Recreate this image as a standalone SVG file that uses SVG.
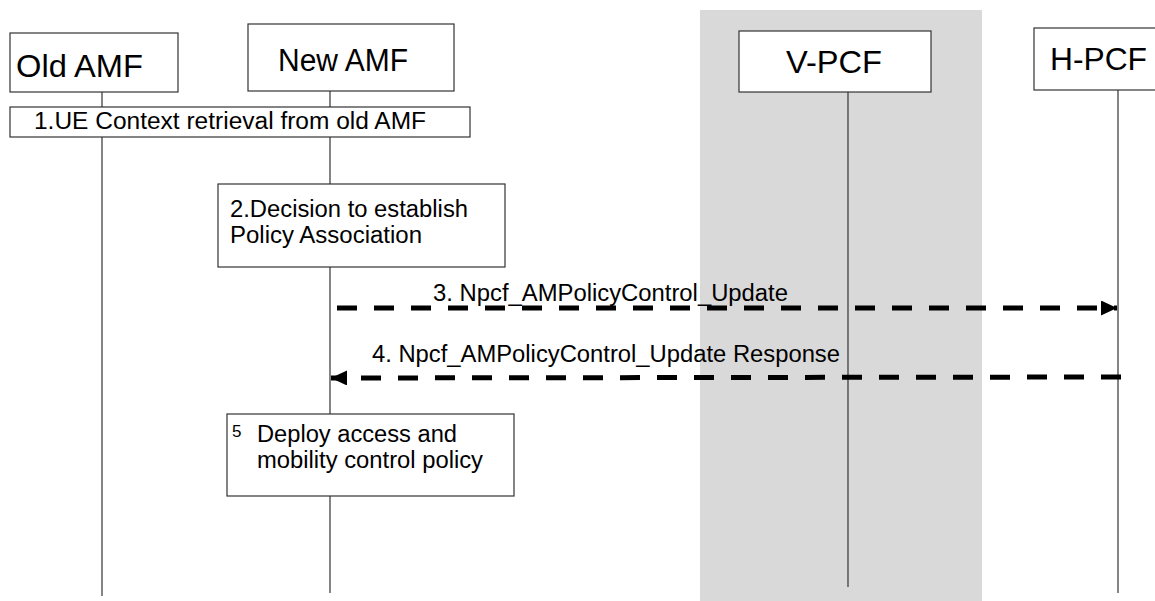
<svg xmlns="http://www.w3.org/2000/svg" width="1155" height="601" viewBox="0 0 1155 601">
<style>
.box{fill:#fff;stroke:#333;stroke-width:1.2}
.life{stroke:#333;stroke-width:1.2;fill:none}
.head{font-family:"Liberation Sans",Arial,sans-serif;font-size:31px;fill:#000}
.t{font-family:"Liberation Sans",Arial,sans-serif;font-size:23px;fill:#000}
.msg{stroke:#000;stroke-width:5;stroke-dasharray:20 17;fill:none}
</style>
<defs>
<marker id="ah" markerWidth="16" markerHeight="15" refX="16" refY="7.5" orient="auto" markerUnits="userSpaceOnUse">
<path d="M0,0 L16,7.5 L0,15 Z" fill="#000"/>
</marker>
</defs>
<rect id="visited-network" x="700" y="10" width="282" height="591" fill="#d9d9d9"/>
<g id="lifelines">
<line class="life" x1="102" y1="92" x2="102" y2="596"/>
<line class="life" x1="330" y1="91" x2="330" y2="593"/>
<line class="life" x1="848" y1="92" x2="848" y2="587"/>
<line class="life" x1="1118" y1="90" x2="1118" y2="593"/>
</g>
<g id="old-amf"><rect class="box" x="10" y="33" width="168" height="59"/><text class="head" x="16" y="77" textLength="127" lengthAdjust="spacingAndGlyphs">Old AMF</text></g>
<g id="new-amf"><rect class="box" x="248" y="24" width="206" height="67"/><text class="head" x="278" y="71" textLength="130" lengthAdjust="spacingAndGlyphs">New AMF</text></g>
<g id="v-pcf"><rect class="box" x="739" y="31" width="192" height="61"/><text class="head" x="786" y="73" textLength="96" lengthAdjust="spacingAndGlyphs">V-PCF</text></g>
<g id="h-pcf"><rect class="box" x="1034" y="28" width="130" height="62"/><text class="head" x="1050" y="70" textLength="97" lengthAdjust="spacingAndGlyphs">H-PCF</text></g>
<g id="step1"><rect class="box" x="10" y="107" width="460" height="30"/><text class="t" x="34" y="129" textLength="392" lengthAdjust="spacingAndGlyphs">1.UE Context retrieval from old AMF</text></g>
<g id="step2"><rect class="box" x="218" y="184" width="287" height="83"/><text class="t" x="230" y="217" textLength="238" lengthAdjust="spacingAndGlyphs">2.Decision to establish</text><text class="t" x="230" y="243" textLength="192" lengthAdjust="spacingAndGlyphs">Policy Association</text></g>
<g id="step5"><rect class="box" x="227" y="414" width="287" height="82"/><text class="t" x="232" y="437" style="font-size:17px">5</text><text class="t" x="257" y="442" textLength="200" lengthAdjust="spacingAndGlyphs">Deploy access and</text><text class="t" x="257" y="468" textLength="226" lengthAdjust="spacingAndGlyphs">mobility control policy</text></g>
<g id="connectors">
<line class="msg" x1="337" y1="308" x2="1117" y2="308" marker-end="url(#ah)"/>
<line class="msg" x1="1121" y1="377" x2="331" y2="378" marker-end="url(#ah)"/>
</g>
<g id="labels">
<text class="t" x="433" y="301" textLength="355" lengthAdjust="spacingAndGlyphs">3. Npcf_AMPolicyControl_Update</text>
<text class="t" x="372" y="362" textLength="468" lengthAdjust="spacingAndGlyphs">4. Npcf_AMPolicyControl_Update Response</text>
</g>
</svg>
